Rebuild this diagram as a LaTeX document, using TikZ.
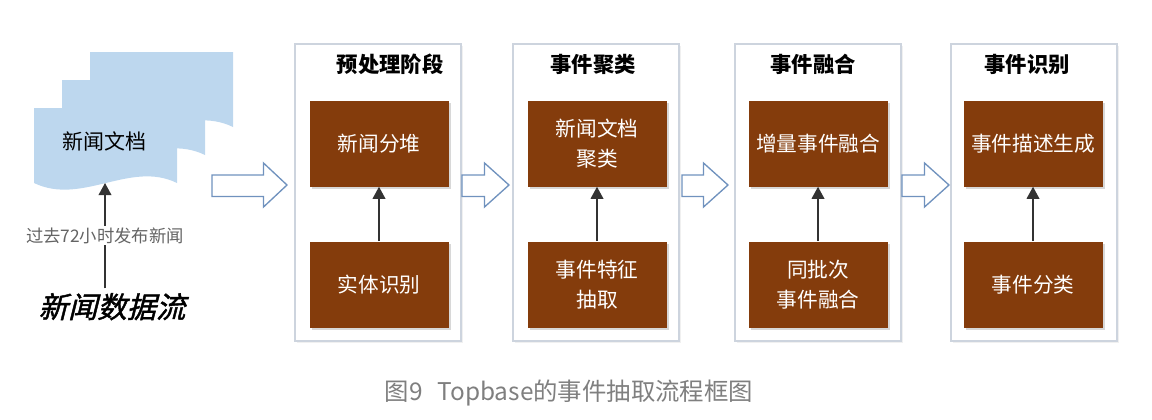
\documentclass[tikz,border=0pt]{standalone}
\usepackage{fontspec}
\setmainfont{Noto Sans CJK SC}
\newfontfamily\slantfont[FakeSlant=0.25,FakeBold=1.5]{Noto Sans CJK SC}
\usetikzlibrary{arrows.meta,shadows}

\definecolor{taskbrown}{RGB}{132,60,12}
\definecolor{docblue}{RGB}{189,215,238}
\definecolor{framegray}{RGB}{205,212,222}
\definecolor{arrowblue}{RGB}{112,146,190}
\definecolor{labelgray}{RGB}{100,100,100}
\definecolor{captiongray}{RGB}{127,127,127}

\tikzset{
  stage/.style={draw=framegray, fill=white, line width=0.8pt,
    minimum width=124.5pt, minimum height=222.75pt, inner sep=0pt,
    drop shadow={shadow xshift=1.2pt, shadow yshift=-1.2pt, opacity=0.12}},
  stagetitle/.style={font=\fontsize{16}{20}\selectfont\bfseries},
  task/.style={fill=taskbrown, text=white, align=center, inner sep=0pt,
    minimum width=104.25pt, minimum height=64.5pt,
    font=\fontsize{15.5}{22.5}\selectfont,
    drop shadow={shadow xshift=1.5pt, shadow yshift=-1.5pt, opacity=0.3}},
  flow/.style={draw=arrowblue, fill=white, line width=1pt, line join=miter},
  up/.style={-{Triangle[length=9pt,width=9.5pt]}, line width=1pt, black!80},
  doc/.style={fill=docblue}
}

\begin{document}
\begin{tikzpicture}[x=0.75pt, y=-0.75pt]
\useasboundingbox (0,0) rectangle (1152,419);
% news documents
\foreach \dx/\dy in {56/-56, 28/-28, 0/0}
  \fill[doc, shift={(\dx,\dy)}] (34,108) -- (177,108) -- (177,183)
    .. controls (130,160) and (82,206) .. (34,183) -- cycle;
\node[font=\fontsize{15.75}{20}\selectfont] (docs) at (104,141.7) {新闻文档};
\coordinate (docwave) at (105,183);
%
\node[font=\fontsize{22}{26}\selectfont\slantfont] (stream) at (112,306.7) {新闻数据流};
\draw[up] (stream.north -| docwave) -- (docwave)
  node[pos=0.5, fill=white, inner sep=1pt, text=labelgray,
       font=\fontsize{13}{16}\selectfont] (pastnews) {过去72小时发布新闻};
%
% stages
\node[stage] (s1) at (378,192.5) {};
\node[stage] (s2) at (596,192.5) {};
\node[stage] (s3) at (818,192.5) {};
\node[stage] (s4) at (1034,192.5) {};
\node[stagetitle] (t1) at (390,64) {预处理阶段};
\node[stagetitle] (t2) at (593,64) {事件聚类};
\node[stagetitle] (t3) at (813,64) {事件融合};
\node[stagetitle] (t4) at (1027,64) {事件识别};
%
\node[task] (a1) at (379,143.5) {新闻分堆};
\node[task] (b1) at (379,284.5) {实体识别};
\node[task] (a2) at (597,143.5) {新闻文档\\聚类};
\node[task] (b2) at (597,284.5) {事件特征\\抽取};
\node[task] (a3) at (818,143.5) {增量事件融合};
\node[task] (b3) at (818,284.5) {同批次\\事件融合};
\node[task] (a4) at (1033,143.5) {事件描述生成};
\node[task] (b4) at (1033,284.5) {事件分类};
\foreach \i in {1,...,4}
  \draw[up] (b\i.north) -- (a\i.south);
%
% block arrows
\foreach \xa/\xb/\xc in {212/263.5/287, 462/484.5/509, 682/703.5/728, 902/924.5/949}
  \draw[flow] (\xa,175) -- (\xb,175) -- (\xb,163) -- (\xc,185)
    -- (\xb,207) -- (\xb,196.5) -- (\xa,196.5) -- cycle;
%
\node[text=captiongray, font=\fontsize{18.3}{22}\selectfont] (caption) at (569,393)
  {图9\hspace{0.6em}Topbase的事件抽取流程框图};
\end{tikzpicture}
\end{document}
